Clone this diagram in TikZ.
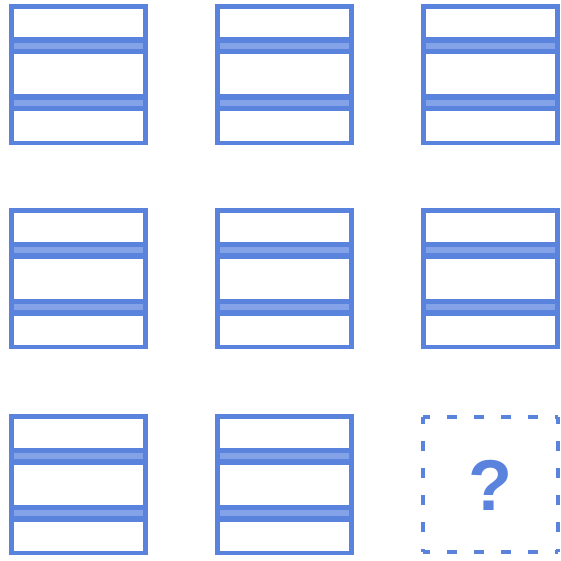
\documentclass[tikz,border=0pt]{standalone}
\usepackage{fontspec}
\setmainfont{Liberation Sans}
\definecolor{panelblue}{HTML}{5A83DE}
\definecolor{stripeblue}{HTML}{84A2E8}
\begin{document}
\begin{tikzpicture}[x=1pt,y=-1pt,
  panel/.pic={
    \fill[panelblue] (0,0) rectangle (139,141);
    \fill[stripeblue] (5,39) rectangle (134,45);
    \fill[stripeblue] (5,96) rectangle (134,102);
    \fill[white] (5,5) rectangle (134,33.5);
    \fill[white] (5,50.5) rectangle (134,90.5);
    \fill[white] (5,107.5) rectangle (134,137);
  },
  missing/.style={draw=panelblue, line width=4pt, dash pattern=on 10pt off 17pt, dash phase=3pt},
  qmark/.style={text=panelblue, inner sep=0pt, font=\fontsize{72}{72}\selectfont\bfseries}
]
\useasboundingbox (0,0) rectangle (560,561);
\pic at (9,4) {panel};
\pic at (215,4) {panel};
\pic at (421,4) {panel};
\pic at (9,208) {panel};
\pic at (215,208) {panel};
\pic at (421,208) {panel};
\pic at (9,414) {panel};
\pic at (215,414) {panel};
\coordinate (m1) at (423,417);
\coordinate (m2) at (558,417);
\coordinate (m3) at (558,552);
\coordinate (m4) at (423,552);
\draw[missing] (m1) -- (m2);
\draw[missing] (m1) -- (m4);
\draw[missing] (m4) -- (m3);
\draw[missing] (m2) -- (m3);
\node[qmark] (q) at (490,485) {?};
\end{tikzpicture}
\end{document}
